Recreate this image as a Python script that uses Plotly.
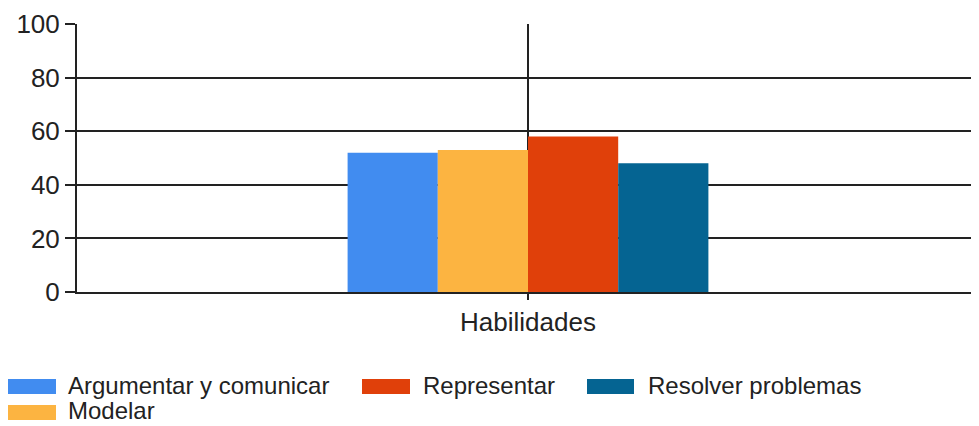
import plotly.graph_objects as go

categories = ["Habilidades"]
series_names = ["Argumentar y comunicar", "Modelar", "Representar", "Resolver problemas"]
series_values = [[52], [53], [58], [48]]
series_colors = ["#418CF0", "#FCB441", "#E0400A", "#056492"]
y_ticks = [0, 20, 40, 60, 80, 100]

# the page body has an 8px default margin, so the figure sits at (8, 8)
OFF = 8
W, H = 979 - OFF, 426 - OFF
L, R, T, B = 77 - OFF, 979 - OFF, 24 - OFF, 292 - OFF

def px2x(px):
    return (px - OFF - L) / (R - L)

def py2y(py):
    return (B - (py - OFF)) / (B - T)

FONT = "Arial, Liberation Sans, sans-serif"
TXT = "#222222"

fig = go.Figure()
for name, vals, col in zip(series_names, series_values, series_colors):
    fig.add_trace(go.Bar(x=categories, y=vals, name=name, marker=dict(color=col, line=dict(width=0)),
                         showlegend=False))

# custom legend (swatches + labels), positions in reference pixels
legend_layout = [  # (swatch x0, swatch x1, text x, row)
    (8, 56, 66, 0),
    (8, 56, 66, 1),
    (362, 410, 421, 0),
    (587, 634, 646, 0),
]
row_y = [386.5, 412.5]
text_y = [385, 410]
shapes = []
annotations = []
for (sx0, sx1, tx, row), name, col in zip(legend_layout, series_names, series_colors):
    cy = row_y[row]
    shapes.append(dict(type="rect", xref="paper", yref="paper",
                       x0=px2x(sx0), x1=px2x(sx1), y0=py2y(cy - 7.5), y1=py2y(cy + 7.5),
                       fillcolor=col, line=dict(width=0)))
    annotations.append(dict(xref="paper", yref="paper", x=px2x(tx), y=py2y(text_y[row]),
                            xanchor="left", yanchor="middle", showarrow=False,
                            text=name, font=dict(family=FONT, size=24, color=TXT)))

fig.update_layout(
    width=W, height=H,
    margin=dict(l=L, r=W - R, t=T, b=H - B, pad=0),
    paper_bgcolor="white", plot_bgcolor="white",
    barmode="group", bargap=0.6, bargroupgap=0,
    showlegend=False,
    shapes=shapes, annotations=annotations,
    font=dict(family=FONT, color=TXT),
)
fig.update_xaxes(
    showgrid=True, gridcolor="#222222", gridwidth=2,
    showline=True, linecolor="#222222", linewidth=2,
    ticks="outside", ticklen=6, tickwidth=2, tickcolor="#222222",
    tickfont=dict(family=FONT, size=26, color=TXT),
)
fig.update_yaxes(
    range=[0, 100], tickvals=y_ticks,
    showgrid=True, gridcolor="#222222", gridwidth=2,
    showline=True, linecolor="#222222", linewidth=2,
    zeroline=False,
    ticks="outside", ticklen=10, tickwidth=2, tickcolor="#222222",
    tickfont=dict(family=FONT, size=26, color=TXT),
)

fig.write_html("out.html")
